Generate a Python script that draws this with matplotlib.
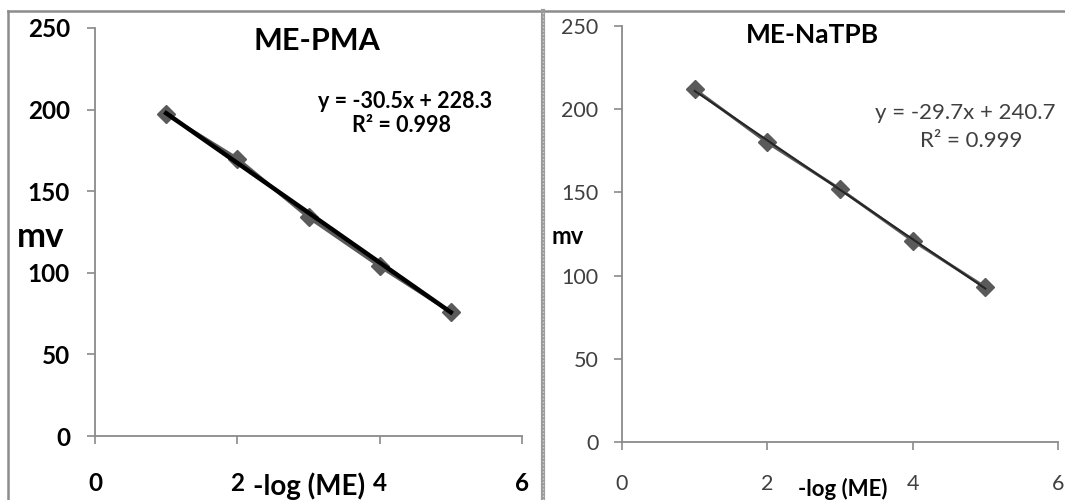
import matplotlib
matplotlib.use("Agg")
import matplotlib.pyplot as plt
from matplotlib.lines import Line2D
import numpy as np

plt.rcParams["font.family"] = ["Lato", "DejaVu Sans"]

# data
log_me = [1, 2, 3, 4, 5]
pma_mv = [197, 170, 134, 104, 76]
natpb_mv = [212, 180, 152, 121, 93]

pma_slope, pma_intercept, pma_r2 = -30.5, 228.3, 0.998
natpb_slope, natpb_intercept, natpb_r2 = -29.7, 240.7, 0.999

x_ticks = [0, 2, 4, 6]
y_ticks = [0, 50, 100, 150, 200, 250]

W, H = 1065, 500
fig = plt.figure(figsize=(W / 100, H / 100), dpi=100)
fig.patch.set_facecolor("white")


def px(x, y):
    return x / W, 1 - y / H


def style_axes(ax, bold, tick_size, tick_color, xpad, ypad):
    ax.set_xlim(0, 6)
    ax.set_ylim(0, 250)
    ax.set_xticks(x_ticks)
    ax.set_yticks(y_ticks)
    for side in ("top", "right"):
        ax.spines[side].set_visible(False)
    for side in ("left", "bottom"):
        ax.spines[side].set_color("#8a8a8a")
        ax.spines[side].set_linewidth(1.3)
    ax.tick_params(axis="both", direction="out", length=6, width=1.2,
                   color="#8a8a8a", labelsize=tick_size, labelcolor=tick_color)
    ax.tick_params(axis="x", pad=xpad)
    ax.tick_params(axis="y", pad=ypad)
    for lab in ax.get_xticklabels() + ax.get_yticklabels():
        lab.set_fontweight("bold" if bold else "normal")


# left panel: ME-PMA
ax1 = fig.add_axes([95 / W, 1 - 436 / H, 427 / W, 408 / H])
style_axes(ax1, True, 17.5, "black", 20, 12)
ax1.plot(log_me, pma_mv, color="#5a5a5a", lw=2.4, marker="D", ms=9,
         mec="#5a5a5a", mfc="#5a5a5a", zorder=2)
xs = np.array([log_me[0], log_me[-1]])
ax1.plot(xs, pma_slope * xs + pma_intercept, color="black", lw=3.2, zorder=3)

fig.text(*px(317, 41), "ME-PMA", fontsize=22, fontweight="bold",
         ha="center", va="center")
fig.text(*px(405, 102), f"y = {pma_slope}x + {pma_intercept}", fontsize=15.5,
         fontweight="bold", ha="center", va="center")
fig.text(*px(402, 126), f"R² = {pma_r2}", fontsize=15.5,
         fontweight="bold", ha="center", va="center")
fig.text(*px(41, 237), "mv", fontsize=25, fontweight="bold",
         ha="center", va="center")
fig.text(*px(309, 486), "-log (ME)", fontsize=20, fontweight="bold",
         ha="center", va="center")

# right panel: ME-NaTPB
ax2 = fig.add_axes([622 / W, 1 - 442 / H, 436 / W, 416 / H])
style_axes(ax2, False, 15.5, "#404040", 17, 11)
ax2.plot(log_me, natpb_mv, color="#5a5a5a", lw=2.2, marker="D", ms=9,
         mec="#5a5a5a", mfc="#5a5a5a", zorder=2)
ax2.plot(xs, natpb_slope * xs + natpb_intercept, color="#262626", lw=1.5,
         zorder=3)

fig.text(*px(812, 35), "ME-NaTPB", fontsize=19, fontweight="bold",
         ha="center", va="center")
fig.text(*px(965, 113), f"y = {natpb_slope}x + {natpb_intercept}",
         fontsize=16, color="#404040", ha="center", va="center")
fig.text(*px(971, 141), f"R² = {natpb_r2}", fontsize=16,
         color="#404040", ha="center", va="center")
fig.text(*px(568, 237), "mv", fontsize=17, fontweight="bold",
         ha="center", va="center")
fig.text(*px(843, 489), "-log (ME)", fontsize=16, fontweight="bold",
         ha="center", va="center")

# panel borders
fig.add_artist(Line2D([8 / W, 1], [1 - 11 / H, 1 - 11 / H], color="#8c8c8c",
                      lw=1.8, transform=fig.transFigure))
fig.add_artist(Line2D([8 / W, 8 / W], [0, 1 - 11 / H], color="#8c8c8c",
                      lw=1.8, transform=fig.transFigure))
fig.add_artist(Line2D([543 / W, 543 / W], [0, 1 - 11 / H], color="#9a9a9a",
                      lw=3.0, transform=fig.transFigure))
fig.add_artist(Line2D([543 / W, 543 / W], [0, 1 - 11 / H], color="#d0d0d0",
                      lw=1.0, ls=(0, (1, 1.5)), transform=fig.transFigure))

fig.savefig("out.png", dpi=100)
